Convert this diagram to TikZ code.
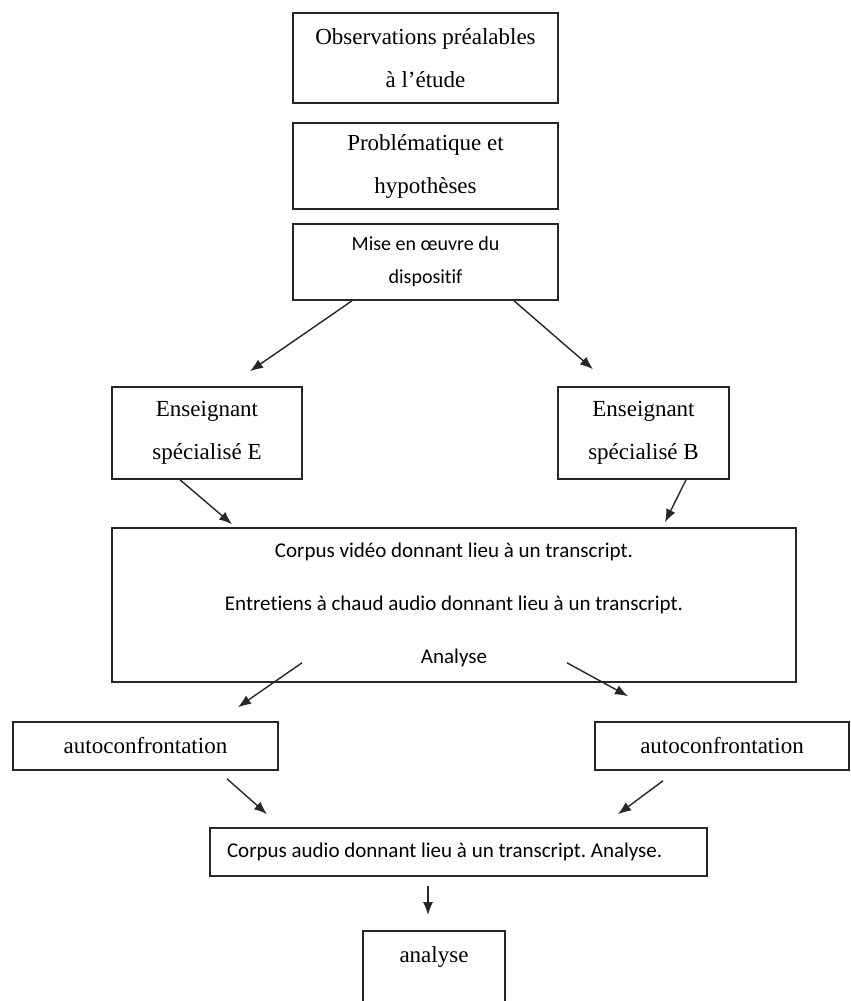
\documentclass[tikz,border=0pt]{standalone}
\usepackage{fontspec}
\setmainfont{Liberation Serif}
\newfontfamily\calib[Ligatures=NoCommon]{Carlito}
\usetikzlibrary{arrows.meta,calc}
\frenchspacing
\tikzset{
  box/.style={draw=black!85, line width=1.6pt, inner sep=0pt, align=center, fill=white},
  serifA/.style={font=\fontsize{23}{43}\selectfont},
  sansA/.style={font=\calib\fontsize{20}{33}\selectfont},
  sansB/.style={font=\calib\fontsize{21}{53}\selectfont},
  arr/.style={-{Latex[length=13pt,width=10pt]}, line width=1.4pt, draw=black!85},
}
\begin{document}
\begin{tikzpicture}[x=1pt,y=-1pt]
\useasboundingbox (0,0) rectangle (851,1001);
\clip (0,0) rectangle (851,1001);
% nodes
\node[box,serifA,minimum width=265pt,minimum height=90pt] (b1) at (425.5,58) {Observations préalables\\à l’étude};
\node[box,serifA,minimum width=265pt,minimum height=86pt] (b2) at (425.5,166) {Problématique et\\hypothèses};
\node[box,sansA,minimum width=265pt,minimum height=76pt] (b3) at (425.5,262) {Mise en œuvre du\\dispositif};
\node[box,serifA,minimum width=190pt,minimum height=92pt] (E) at (207,433) {Enseignant\\spécialisé E};
\node[box,serifA,minimum width=171pt,minimum height=92pt] (B) at (643.5,433) {Enseignant\\spécialisé B};
\node[box,sansB,minimum width=684pt,minimum height=154pt] (big) at (454,605) {Corpus vidéo donnant lieu à un transcript.\\Entretiens à chaud audio donnant lieu à un transcript.\\Analyse};
\node[box,serifA,minimum width=265pt,minimum height=48pt] (autoL) at (145.5,746) {autoconfrontation};
\node[box,serifA,minimum width=254pt,minimum height=48pt] (autoR) at (722,746) {autoconfrontation};
\node[box,font=\calib\fontsize{21}{25}\selectfont,minimum width=497pt,minimum height=48pt] (corpus) at (458.5,852) {\makebox[463pt][l]{Corpus audio donnant lieu à un transcript. Analyse.}};
\node[box,serifA,anchor=north,inner ysep=0pt,minimum width=142pt,text height=32pt,text depth=80pt] (an) at (434,930) {analyse};
% connectors
\draw[arr] ($(b3.south)+(-73.5,0)$) -- ($(E.north)+(43,-15)$);
\draw[arr] ($(b3.south)+(88.5,0)$) -- ($(B.north)+(-50.5,-17)$);
\draw[arr] ($(E.south)+(-27,0)$) -- ($(big.north)+(-222,-3)$);
\draw[arr] ($(B.south)+(42.5,0)$) -- ($(big.north)+(211,-5)$);
\draw[arr] ($(big.south)+(-152,-20)$) -- ($(autoL.north)+(92.5,-14)$);
\draw[arr] ($(big.south)+(113,-20)$) -- ($(autoR.north)+(-94,-25)$);
\draw[arr] ($(autoL.south)+(81.5,8)$) -- ($(corpus.north)+(-191.5,-13)$);
\draw[arr] ($(autoR.south)+(-59,10)$) -- ($(corpus.north)+(159.5,-13)$);
\draw[arr] ($(corpus.south)+(-30.5,9)$) -- ($(an.north)+(-6,-15)$);
\end{tikzpicture}
\end{document}
